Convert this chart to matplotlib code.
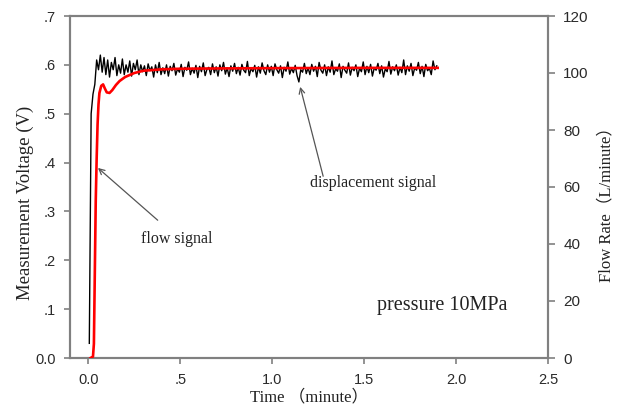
import numpy as np
import matplotlib.pyplot as plt

# displacement signal (V), sampled every 0.01 min starting at 0.005 min
disp_t0 = 0.005
disp_dt = 0.01
disp_v = [
    0.03, 0.50, 0.54, 0.56, 0.61, 0.59, 0.62, 0.585, 0.615, 0.58,
    0.61, 0.575, 0.605, 0.59, 0.615, 0.578, 0.60, 0.583, 0.612, 0.58,
    0.60, 0.585, 0.608, 0.577, 0.603, 0.59, 0.61, 0.58, 0.60, 0.586,
    0.598, 0.578, 0.602, 0.588, 0.596, 0.575, 0.60, 0.584, 0.605, 0.58,
    0.594, 0.582, 0.60, 0.577, 0.597, 0.588, 0.603, 0.579, 0.592, 0.585,
    0.601, 0.576, 0.595, 0.589, 0.606, 0.58, 0.593, 0.583, 0.599, 0.574,
    0.597, 0.586, 0.604, 0.578, 0.591, 0.595, 0.58, 0.602, 0.584, 0.596,
    0.577, 0.60, 0.588, 0.605, 0.581, 0.594, 0.576, 0.598, 0.587, 0.603,
    0.582, 0.595, 0.579, 0.601, 0.589, 0.584, 0.607, 0.578, 0.593, 0.586,
    0.599, 0.575, 0.596, 0.583, 0.604, 0.588, 0.58, 0.60, 0.585, 0.597,
    0.578, 0.602, 0.59, 0.583, 0.598, 0.574, 0.595, 0.587, 0.606, 0.581,
    0.593, 0.584, 0.599, 0.578, 0.565, 0.59, 0.585, 0.603, 0.582, 0.594,
    0.58, 0.601, 0.587, 0.597, 0.576, 0.605, 0.589, 0.583, 0.60, 0.578,
    0.596, 0.585, 0.608, 0.58, 0.592, 0.587, 0.602, 0.574, 0.597, 0.589,
    0.583, 0.604, 0.579, 0.595, 0.588, 0.60, 0.576, 0.593, 0.586, 0.606,
    0.58, 0.597, 0.584, 0.601, 0.577, 0.594, 0.589, 0.603, 0.582, 0.598,
    0.575, 0.592, 0.586, 0.607, 0.581, 0.596, 0.588, 0.60, 0.579, 0.595,
    0.584, 0.61, 0.58, 0.598, 0.587, 0.603, 0.578, 0.594, 0.589, 0.605,
    0.582, 0.597, 0.576, 0.601, 0.588, 0.593, 0.58, 0.608, 0.59, 0.598,
]
disp_time = disp_t0 + disp_dt * np.arange(len(disp_v))

# flow signal (L/minute)
flow_time = [0.012, 0.025, 0.03, 0.035, 0.04, 0.045, 0.05, 0.055, 0.06, 0.07,
             0.08, 0.09, 0.10, 0.115, 0.13, 0.15, 0.17, 0.20, 0.25, 0.30,
             0.40, 0.50, 0.70, 1.00, 1.50, 1.90]
flow_rate = [0.0, 0.5, 5, 30, 55, 70, 82, 89, 93, 95.5,
             96, 94.5, 93.2, 93, 94, 95.8, 97.2, 98.6, 100, 100.8,
             101.3, 101.5, 101.6, 101.7, 101.8, 101.8]

xticks = [0.0, 0.5, 1.0, 1.5, 2.0, 2.5]
xtick_labels = ['0.0', '.5', '1.0', '1.5', '2.0', '2.5']
yticks = [0.0, 0.1, 0.2, 0.3, 0.4, 0.5, 0.6, 0.7]
ytick_labels = ['0.0', '.1', '.2', '.3', '.4', '.5', '.6', '.7']
y2ticks = [0, 20, 40, 60, 80, 100, 120]

serif = ['Liberation Serif', 'Noto Sans CJK SC']
sans = 'Liberation Sans'
spine_c = '#808080'
txt_c = '#222222'
tick_c = '#2a2a2a'

fig = plt.figure(figsize=(6.19, 4.07), dpi=100)
ax = fig.add_axes([70/619, 1-358/407, 478/619, 342/407])
ax2 = ax.twinx()

ax.plot(disp_time, disp_v, color='black', lw=1.0, zorder=2)
ax2.plot(flow_time, flow_rate, color='#ff0000', lw=1.9, zorder=3)

ax.set_xlim(-0.1, 2.5)
ax.set_ylim(0, 0.7)
ax2.set_ylim(0, 120)

ax.set_xticks(xticks)
ax.set_xticklabels(xtick_labels, family=sans, fontsize=10.5, color=tick_c)
ax.set_yticks(yticks)
ax.set_yticklabels(ytick_labels, family=sans, fontsize=10.5, color=tick_c)
ax2.set_yticks(y2ticks)
ax2.set_yticklabels([str(v) for v in y2ticks], family=sans, fontsize=11, color=tick_c)

for a in (ax, ax2):
    for s in a.spines.values():
        s.set_color(spine_c)
        s.set_linewidth(1.5)
ax.tick_params(axis='y', direction='out', length=4, width=1.2, color=spine_c, pad=6.5)
ax.tick_params(axis='x', direction='out', length=4, width=1.2, color=spine_c, pad=6.5)
ax2.tick_params(axis='y', direction='out', length=5, width=1.2, color=spine_c, pad=6)

arrow = dict(arrowstyle='->', color='#555555', lw=0.9, shrinkA=0, shrinkB=0)
ax.annotate('', xy=(0.052, 0.389), xytext=(0.377, 0.282), arrowprops=arrow)
ax.text(0.48, 0.244, 'flow signal', family=serif, fontsize=11.5, color=txt_c,
        ha='center', va='center')
ax.annotate('', xy=(1.152, 0.555), xytext=(1.277, 0.372), arrowprops=arrow)
ax.text(1.548, 0.358, 'displacement signal', family=serif, fontsize=11.5,
        color=txt_c, ha='center', va='center')
ax.text(1.922, 0.108, 'pressure 10MPa', family=serif, fontsize=14.5,
        color=txt_c, ha='center', va='center')

fig.text(25/619, 1-203/407, 'Measurement Voltage (V)', family=serif,
         fontsize=13.5, color=txt_c, rotation=90, ha='center', va='center')
fig.text(606/619, 1-200/407, 'Flow Rate（L/minute）', family=serif,
         fontsize=12, color=txt_c, rotation=90, ha='center', va='center')
fig.text(309/619, 1-397/407, 'Time （minute）', family=serif,
         fontsize=12, color=txt_c, ha='center', va='center')

fig.savefig('out.png', dpi=100)
